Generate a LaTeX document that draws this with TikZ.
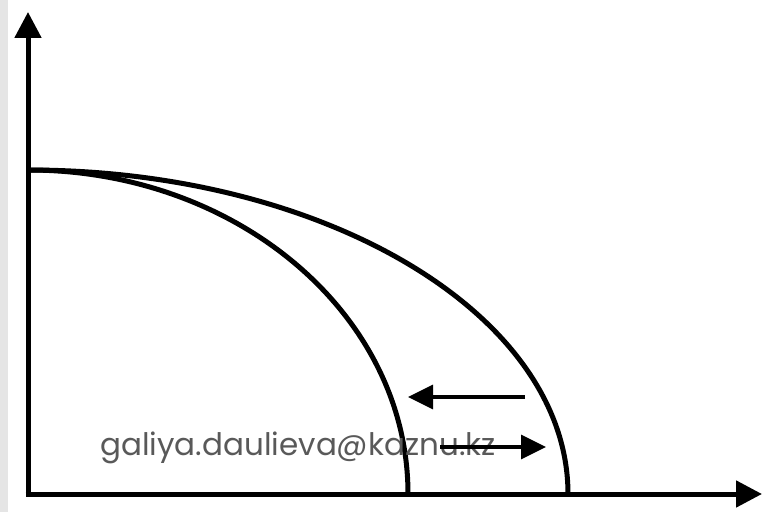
\documentclass[tikz,border=0pt]{standalone}
\usepackage{fontspec}
\newfontfamily\mailfont{Poppins}
\usetikzlibrary{arrows.meta}
\begin{document}
\begin{tikzpicture}[
    x=1pt, y=1pt,
    axis/.style={line width=5pt, -{Triangle[length=26pt, width=26pt]}},
    curve/.style={line width=5pt},
    movearr/.style={line width=3.5pt, -{Triangle[length=25pt, width=24pt]}},
    mail/.style={font=\mailfont\fontsize{31}{36}\selectfont, text=black!65, inner sep=0pt},
]
    \useasboundingbox (0,0) rectangle (763,512);
    \fill[black!10] (0,0) rectangle (8,512);

    % axes
    \coordinate (O) at (28,18);
    \coordinate (ytop) at (28,500);
    \coordinate (xend) at (762,18);
    \draw[axis] (28,15.5) -- (ytop);
    \draw[axis] (25.5,18) -- (xend);

    % two curves from the same point on the vertical axis
    \coordinate (top) at (28,342);
    \draw[curve] (top) arc[start angle=90, end angle=0, x radius=380, y radius=324] coordinate (inner);
    \draw[curve] (top) arc[start angle=90, end angle=0, x radius=540, y radius=324] coordinate (outer);

    % label
    \node[mail] (mail) at (298,64) {galiya.daulieva@kaznu.kz};

    % shift arrows
    \coordinate (la) at (525,115);
    \coordinate (lb) at (408,115);
    \coordinate (ra) at (440,65);
    \coordinate (rb) at (546,65);
    \draw[movearr] (la) -- (lb);
    \draw[movearr] (ra) -- (rb);
\end{tikzpicture}
\end{document}
